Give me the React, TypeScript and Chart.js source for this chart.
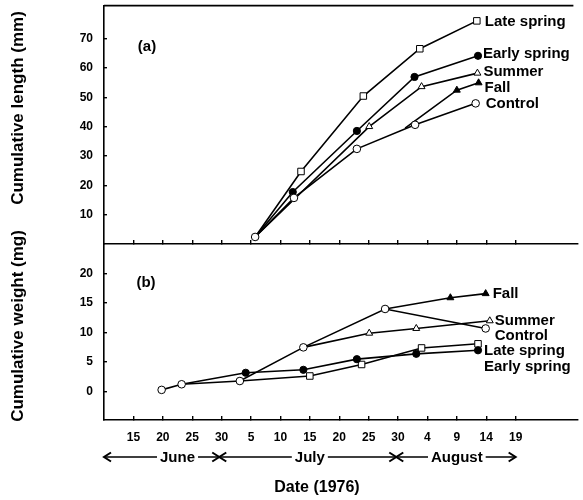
import React, { useEffect, useRef } from 'react';
import { Chart, registerables } from 'chart.js';

Chart.register(...registerables);

// x values are day numbers counted from June 1
// (June d = d, July d = 30 + d, August d = 61 + d)
const dayTicks = [15, 20, 25, 30, 35, 40, 45, 50, 55, 60, 65, 70, 75, 80];
const dayTickLabels = ['15', '20', '25', '30', '5', '10', '15', '20', '25', '30', '4', '9', '14', '19'];
const lengthTicks = [10, 20, 30, 40, 50, 60, 70];
const weightTicks = [0, 5, 10, 15, 20];

// (a) cumulative length (mm)
const lenControlDays = [35.7, 42.3, 53.0, 62.9, 73.2];
const lenControl = [2.4, 15.7, 32.4, 40.6, 47.9];
const lenEarlyDays = [35.7, 42.1, 53.0, 62.8, 73.6];
const lenEarly = [2.4, 17.7, 38.5, 56.9, 64.1];
const lenLateDays = [35.7, 43.5, 54.1, 63.7, 73.4];
const lenLate = [2.4, 24.7, 50.4, 66.5, 76.0];
const lenSummerDays = [35.7, 55.1, 64.0, 73.5];
const lenSummer = [2.4, 40.0, 53.6, 58.2];
const lenFallDays = [61.2, 70.0, 73.7];
const lenFall = [39.5, 52.4, 54.9];

// (b) cumulative weight (mg)
const wtControlDays = [19.8, 23.2, 33.1, 43.9, 57.8, 74.9];
const wtControl = [0.3, 1.25, 1.8, 7.5, 14.0, 10.7];
const wtEarlyDays = [23.2, 34.1, 43.9, 53.0, 63.1, 73.6];
const wtEarly = [1.25, 3.2, 3.7, 5.5, 6.4, 7.0];
const wtLateDays = [33.1, 45.0, 53.8, 64.0, 73.6];
const wtLate = [1.8, 2.65, 4.6, 7.4, 8.1];
const wtSummerDays = [43.9, 55.1, 63.1, 75.6];
const wtSummer = [7.5, 9.9, 10.7, 12.0];
const wtFallDays = [57.8, 68.9, 74.9];
const wtFall = [14.0, 15.9, 16.6];

// month bands along the date axis: [start day, end day, centre day]
const monthNames = ['June', 'July', 'August'];
const monthBands = [
  [10, 29.6, 22.5],
  [29.6, 59.7, 45],
  [59.7, 80, 70],
];

const FONT = '"Liberation Sans", Arial, Helvetica, sans-serif';

type Kind = 'control' | 'early' | 'late' | 'summer' | 'fall';

const markers: Record<Kind, { style: string; r: number; fill: string }> = {
  control: { style: 'circle', r: 3.8, fill: '#fff' },
  early: { style: 'circle', r: 3.6, fill: '#000' },
  late: { style: 'rect', r: 4.6, fill: '#fff' },
  summer: { style: 'triangle', r: 4, fill: '#fff' },
  fall: { style: 'triangle', r: 4, fill: '#000' },
};

type SeriesDef = {
  name: string;
  kind: Kind;
  days: number[];
  values: number[];
  lead: number; // leading points shared with another line, drawn without marker
  dx: number;
  dy: number;
};

function makeDataset(s: SeriesDef) {
  const m = markers[s.kind];
  return {
    label: s.name,
    data: s.days.map((d, i) => ({ x: d, y: s.values[i] })),
    borderColor: '#000',
    borderWidth: 1.6,
    pointStyle: m.style,
    pointBackgroundColor: m.fill,
    pointBorderColor: '#000',
    pointBorderWidth: 1,
    pointRadius: (ctx: any) => (ctx.dataIndex < s.lead ? 0 : m.r),
    pointHoverRadius: (ctx: any) => (ctx.dataIndex < s.lead ? 0 : m.r),
    tension: 0,
    fill: false,
  };
}

function tickFont(size = 12) {
  return { family: FONT, weight: 'bold' as const, size };
}

function labelPlugin(series: SeriesDef[]) {
  return {
    id: 'seriesLabels',
    afterDatasetsDraw(chart: any) {
      const ctx = chart.ctx;
      ctx.save();
      ctx.fillStyle = '#000';
      ctx.font = `bold 15px ${FONT}`;
      ctx.textAlign = 'left';
      ctx.textBaseline = 'middle';
      series.forEach((s, i) => {
        const meta = chart.getDatasetMeta(i);
        const el = meta.data[meta.data.length - 1];
        ctx.fillText(s.name, el.x + s.dx, el.y + s.dy);
      });
      ctx.restore();
    },
  };
}

function rotatedTitle(ctx: any, text: string, x: number, y: number) {
  ctx.save();
  ctx.translate(x, y);
  ctx.rotate(-Math.PI / 2);
  ctx.font = `bold 17px ${FONT}`;
  ctx.fillStyle = '#000';
  ctx.textAlign = 'center';
  ctx.textBaseline = 'middle';
  ctx.fillText(text, 0, 0);
  ctx.restore();
}

function arrowHead(ctx: any, x: number, y: number, dir: number) {
  ctx.beginPath();
  ctx.moveTo(x - dir * 7, y - 4.5);
  ctx.lineTo(x, y);
  ctx.lineTo(x - dir * 7, y + 4.5);
  ctx.stroke();
}

const topSeries: SeriesDef[] = [
  { name: 'Control', kind: 'control', days: lenControlDays, values: lenControl, lead: 0, dx: 10, dy: 0 },
  { name: 'Early spring', kind: 'early', days: lenEarlyDays, values: lenEarly, lead: 1, dx: 5, dy: -2 },
  { name: 'Late spring', kind: 'late', days: lenLateDays, values: lenLate, lead: 1, dx: 8, dy: 1 },
  { name: 'Summer', kind: 'summer', days: lenSummerDays, values: lenSummer, lead: 1, dx: 6, dy: -1 },
  { name: 'Fall', kind: 'fall', days: lenFallDays, values: lenFall, lead: 1, dx: 6, dy: 5 },
];

const bottomSeries: SeriesDef[] = [
  { name: 'Control', kind: 'control', days: wtControlDays, values: wtControl, lead: 0, dx: 9, dy: 7 },
  { name: 'Early spring', kind: 'early', days: wtEarlyDays, values: wtEarly, lead: 1, dx: 6, dy: 17 },
  { name: 'Late spring', kind: 'late', days: wtLateDays, values: wtLate, lead: 1, dx: 6, dy: 7 },
  { name: 'Summer', kind: 'summer', days: wtSummerDays, values: wtSummer, lead: 1, dx: 5, dy: 0 },
  { name: 'Fall', kind: 'fall', days: wtFallDays, values: wtFall, lead: 1, dx: 7, dy: 0 },
];

const X_MIN = 10;
const X_MAX = 90.5;

function zeroPadding(s: any) {
  s.paddingTop = 0;
  s.paddingBottom = 0;
  s.paddingLeft = 0;
  s.paddingRight = 0;
}

function xScale(showLabels: boolean, height: number) {
  return {
    type: 'linear' as const,
    min: X_MIN,
    max: X_MAX,
    afterBuildTicks: (s: any) => {
      s.ticks = dayTicks.map((v) => ({ value: v }));
    },
    afterFit: (s: any) => {
      s.height = height;
      zeroPadding(s);
    },
    grid: {
      display: true,
      drawOnChartArea: false,
      drawTicks: true,
      tickLength: -4,
      color: '#000',
      lineWidth: 1.4,
    },
    border: { display: true, color: '#000', width: 1.6 },
    ticks: {
      display: showLabels,
      autoSkip: false,
      maxRotation: 0,
      minRotation: 0,
      padding: 14,
      color: '#000',
      font: tickFont(12),
      callback: (_v: any, i: number) => dayTickLabels[i],
    },
  };
}

function yScale(min: number, max: number, ticks: number[]) {
  return {
    type: 'linear' as const,
    min,
    max,
    afterBuildTicks: (s: any) => {
      s.ticks = ticks.map((v) => ({ value: v }));
    },
    afterFit: (s: any) => {
      s.width = 104;
      zeroPadding(s);
    },
    grid: {
      display: true,
      drawOnChartArea: false,
      drawTicks: true,
      tickLength: -3,
      color: '#000',
      lineWidth: 1.4,
    },
    border: { display: true, color: '#000', width: 1.6 },
    ticks: {
      padding: 14,
      color: '#000',
      font: tickFont(12),
    },
  };
}

export default function App() {
  const topRef = useRef<HTMLCanvasElement | null>(null);
  const botRef = useRef<HTMLCanvasElement | null>(null);

  useEffect(() => {
    const topDecor = {
      id: 'topDecor',
      afterDraw(chart: any) {
        const ctx = chart.ctx;
        const a = chart.chartArea;
        ctx.save();
        ctx.strokeStyle = '#000';
        ctx.lineWidth = 1.6;
        ctx.beginPath();
        ctx.moveTo(a.left, a.top);
        ctx.lineTo(a.right - 4, a.top);
        ctx.stroke();
        ctx.fillStyle = '#000';
        ctx.font = `bold 15px ${FONT}`;
        ctx.textAlign = 'center';
        ctx.textBaseline = 'middle';
        ctx.fillText('(a)', 147, 47);
        ctx.restore();
        rotatedTitle(ctx, 'Cumulative length (mm)', 18, 108);
      },
    };

    // bottom canvas starts at page y = 200
    const botDecor = {
      id: 'botDecor',
      afterDraw(chart: any) {
        const ctx = chart.ctx;
        const xs = chart.scales.x;
        ctx.save();
        ctx.fillStyle = '#000';
        ctx.strokeStyle = '#000';
        ctx.font = `bold 15px ${FONT}`;
        ctx.textAlign = 'center';
        ctx.textBaseline = 'middle';
        ctx.fillText('(b)', 146, 83);

        // month row
        const yRow = 257;
        ctx.lineWidth = 1.5;
        monthBands.forEach((b, i) => {
          const x0 = xs.getPixelForValue(b[0]);
          const x1 = xs.getPixelForValue(b[1]);
          const xc = xs.getPixelForValue(b[2]);
          const w = ctx.measureText(monthNames[i]).width;
          ctx.beginPath();
          ctx.moveTo(x0, yRow);
          ctx.lineTo(xc - w / 2 - 3, yRow);
          ctx.moveTo(xc + w / 2 + 3, yRow);
          ctx.lineTo(x1, yRow);
          ctx.stroke();
          ctx.lineWidth = 2;
          arrowHead(ctx, x0, yRow, -1);
          arrowHead(ctx, x1, yRow, 1);
          ctx.lineWidth = 1.5;
          ctx.fillText(monthNames[i], xc, yRow + 1);
        });

        ctx.font = `bold 16px ${FONT}`;
        ctx.fillText('Date (1976)', 317, 288);
        ctx.restore();
        rotatedTitle(ctx, 'Cumulative weight (mg)', 18, 126);
      },
    };

    const common = {
      responsive: false,
      animation: false as const,
      plugins: { legend: { display: false }, tooltip: { enabled: false }, title: { display: false } },
      events: [] as any[],
    };

    const top = new Chart(topRef.current as HTMLCanvasElement, {
      type: 'line',
      data: { datasets: topSeries.map(makeDataset) as any },
      options: {
        ...common,
        layout: { padding: { top: 5, right: 1, left: 0, bottom: 0 } },
        scales: {
          x: xScale(false, 6) as any,
          y: yScale(0, 81.2, lengthTicks) as any,
        },
      } as any,
      plugins: [labelPlugin(topSeries), topDecor],
    });

    const bot = new Chart(botRef.current as HTMLCanvasElement, {
      type: 'line',
      data: { datasets: bottomSeries.map(makeDataset) as any },
      options: {
        ...common,
        layout: { padding: { top: 44, right: 1, left: 0, bottom: 0 } },
        scales: {
          x: xScale(true, 80) as any,
          y: yScale(-4.8, 25, weightTicks) as any,
        },
      } as any,
      plugins: [labelPlugin(bottomSeries), botDecor],
    });

    return () => {
      top.destroy();
      bot.destroy();
    };
  }, []);

  return (
    <div style={{ position: 'absolute', left: 0, top: 0, width: 583, height: 500, background: '#fff' }}>
      <canvas
        ref={topRef}
        width={583}
        height={250}
        style={{ position: 'absolute', left: 0, top: 0, width: 583, height: 250 }}
      />
      <canvas
        ref={botRef}
        width={583}
        height={300}
        style={{ position: 'absolute', left: 0, top: 200, width: 583, height: 300 }}
      />
    </div>
  );
}
